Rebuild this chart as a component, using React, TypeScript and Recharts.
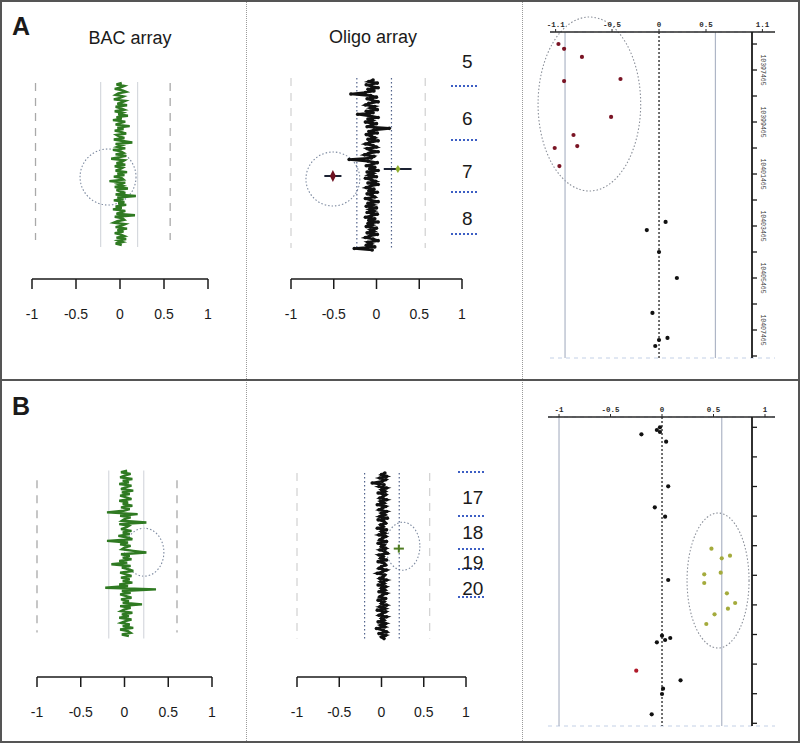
import React from 'react';
import {
  ScatterChart, Scatter, XAxis, YAxis, CartesianGrid,
  ReferenceLine, ReferenceArea, ErrorBar,
} from 'recharts';

const ratioTicks = [-1, -0.5, 0, 0.5, 1];

// log2 ratios, read top to bottom along each profile
const bacA = [0.02, -0.04, 0.05, 0.01, -0.06, 0.03, 0.07, -0.02, -0.05, 0.04, 0.0, -0.07, 0.06, 0.02, -0.03, 0.08, -0.05, 0.01, 0.05, -0.06,
  0.03, -0.02, 0.09, -0.04, 0.02, -0.08, 0.06, 0.0, -0.05, 0.11, -0.03, 0.04, -0.06, 0.02, 0.07, -0.04, -0.01, 0.05, -0.07, 0.03,
  0.14, -0.05, 0.02, -0.03, 0.06, -0.08, 0.01, 0.04, -0.05, 0.07, -0.02, -0.1, 0.05, 0.02, -0.04, 0.06, -0.06, 0.03, 0.0, -0.05,
  0.08, -0.03, 0.05, -0.07, 0.02, 0.04, -0.12, 0.06, -0.02, 0.03, -0.06, 0.09, -0.04, 0.01, 0.06, -0.05, 0.18, -0.03, 0.04, -0.07,
  0.05, -0.02, 0.07, -0.05, 0.02, -0.08, 0.06, 0.01, -0.04, 0.17, -0.06, 0.03, 0.05, -0.03, -0.07, 0.06, 0.02, -0.05, 0.08, -0.03,
  0.04, -0.06, 0.01, 0.05, -0.04, 0.07, -0.02, 0.03, -0.05, 0.02];
const oligoA = [-0.04, -0.09, 0.01, -0.12, -0.06, 0.02, -0.1, -0.03, -0.13, -0.3, -0.07, 0.0, -0.11, -0.05, 0.02, -0.09, -0.13, -0.02, -0.07, 0.01,
  -0.12, -0.04, -0.22, -0.08, 0.02, -0.1, -0.05, -0.13, 0.0, -0.06, -0.11, 0.15, -0.03, -0.09, 0.01, -0.12, -0.06, -0.02, -0.1, 0.02,
  -0.08, -0.13, -0.04, 0.0, -0.11, -0.07, 0.02, -0.09, -0.14, -0.03, -0.06, -0.32, -0.1, 0.01, -0.05, -0.12, -0.02, -0.08, 0.02, -0.11,
  -0.04, -0.09, 0.0, -0.13, -0.06, -0.01, -0.1, 0.02, -0.07, -0.12, -0.03, -0.09, 0.01, -0.11, -0.05, -0.02, -0.13, -0.07, 0.02, -0.1,
  -0.04, -0.12, 0.0, -0.08, -0.03, -0.11, 0.01, -0.06, -0.13, -0.02, -0.09, 0.02, -0.1, -0.05, -0.12, 0.0, -0.07, -0.03, -0.11, 0.01,
  -0.08, -0.13, -0.04, 0.02, -0.1, -0.06, -0.12, -0.02, -0.26, -0.05];
const bacB = [0.03, -0.04, 0.07, 0.0, -0.05, 0.09, -0.02, 0.05, -0.06, 0.08, 0.01, -0.04, 0.1, -0.03, 0.06, -0.05, 0.02, 0.08, -0.06, 0.04,
  -0.02, 0.09, -0.04, 0.06, -0.01, -0.2, 0.15, -0.05, 0.07, 0.0, -0.03, 0.25, -0.06, 0.05, 0.02, -0.04, 0.08, -0.02, 0.06, -0.07,
  0.03, 0.09, -0.2, 0.04, -0.05, 0.07, 0.0, -0.03, 0.1, 0.25, -0.04, 0.06, -0.02, 0.08, -0.06, 0.03, -0.15, 0.07, -0.03, 0.05,
  0.1, -0.05, 0.02, 0.08, -0.04, 0.06, -0.02, 0.09, -0.06, 0.04, -0.22, 0.36, -0.03, 0.07, -0.05, 0.02, 0.08, -0.04, 0.05, -0.02,
  0.2, -0.05, 0.07, 0.0, -0.04, 0.09, -0.03, 0.05, -0.06, 0.08, 0.01, -0.04, 0.06, -0.02, 0.1, -0.05, 0.04, 0.07, -0.03, 0.05];
const oligoB = [0.04, 0.0, 0.06, -0.02, 0.05, 0.01, -0.11, 0.03, -0.03, 0.06, 0.0, 0.04, -0.04, 0.05, 0.02, -0.02, 0.06, -0.01, 0.03, -0.05,
  0.05, 0.01, -0.03, 0.06, 0.0, 0.04, -0.02, 0.07, -0.04, 0.03, 0.05, -0.01, 0.02, -0.05, 0.06, 0.0, 0.04, -0.03, 0.05, 0.01,
  -0.02, 0.06, -0.04, 0.03, 0.0, 0.05, -0.02, 0.04, 0.07, -0.03, 0.02, -0.01, 0.06, -0.04, 0.03, 0.05, 0.0, -0.03, 0.06, 0.01,
  -0.05, 0.04, 0.02, -0.02, 0.06, -0.01, 0.03, -0.04, 0.05, 0.0, 0.04, -0.03, 0.06, 0.01, -0.02, 0.05, -0.04, 0.03, 0.0, 0.06,
  -0.02, 0.04, -0.05, 0.05, 0.01, -0.03, 0.06, 0.0, 0.03, -0.04, 0.05, -0.01, 0.04, -0.06, 0.02, 0.06, -0.03, 0.05, 0.0, 0.03];

// first and last probe of each profile (relative position)
const bacASpan = [44, 206];
const oligoASpan = [41, 211];
const bacBSpan = [28, 166];
const oligoBSpan = [30, 168];

// single oligo outliers with their spread
const oligoALoss = [{ v: -0.51, pos: 137, err: 0.1 }];
const oligoAGain = [{ v: 0.25, pos: 130, err: [0.165, 0.16] }];
const oligoBGain = [{ v: 0.205, pos: 93, err: 0.06 }];

// bands beside the oligo profiles
const bandNamesA = ['5', '6', '7', '8'];
const bandMidA = [22, 79, 132, 179];
const bandEdgeA = [47, 101, 153, 195];
const bandNamesB = ['17', '18', '19', '20'];
const bandMidB = [60, 95, 125, 151];
const bandEdgeB = [35, 79, 112, 132, 160];

// right hand plots: genomic position vs ratio
const dotTicksA = [10396465, 10397465, 10398465, 10399465, 10400465, 10401465, 10402465, 10403465, 10404465,
  10405465, 10406465, 10407465, 10408465];
const dotLabelsA = [10397465, 10399465, 10401465, 10403465, 10405465, 10407465];
const topTicksA = [-1.1, -0.5, 0, 0.5, 1.1];
const lossAPos = [10396465, 10396650, 10396960, 10397890, 10397810, 10399270, 10399965, 10400390, 10400465, 10401160];
const lossAVal = [-1.07, -1.01, -0.82, -1.01, -0.41, -0.51, -0.91, -0.87, -1.11, -1.06];
const normAPos = [10403310, 10403620, 10404465, 10405465, 10406810, 10407770, 10407850, 10408080];
const normAVal = [0.07, -0.13, 0, 0.19, -0.07, 0.09, 0, -0.04];

const dotTicksB = [17229657, 17239657, 17249657, 17259657, 17269657, 17279657, 17289657, 17299657, 17309657,
  17319657, 17329657, 17339657, 17349657, 17359657, 17369657, 17379657, 17389657, 17399657, 17409657, 17419657, 17429657];
const dotLabelsB = [17239657, 17259657, 17279657, 17299657, 17319657, 17339657, 17359657, 17379657, 17399657, 17419657];
const topTicksB = [-1, -0.5, 0, 0.5, 1];
const normBPos = [17229660, 17231480, 17232830, 17234390, 17239390, 17269520, 17283710, 17290060, 17332830, 17370470,
  17372020, 17373370, 17374930, 17400600, 17406280, 17409860, 17423580];
const normBVal = [-0.02, -0.05, -0.02, -0.2, 0.04, 0.06, -0.07, 0.03, 0.06, 0, 0.08, 0.03, -0.05, 0.18, 0.01, 0, -0.1];
const gainBPos = [17311680, 17316410, 17318170, 17327900, 17328980, 17334860, 17341820, 17348370, 17352230, 17356010, 17362560];
const gainBVal = [0.48, 0.66, 0.58, 0.57, 0.41, 0.41, 0.63, 0.71, 0.64, 0.51, 0.43];
const lossBPos = [17394120];
const lossBVal = [-0.25];

const toProfile = (vals: number[], span: number[]) =>
  vals.map((v, i) => ({ v, pos: span[0] + (i * (span[1] - span[0])) / (vals.length - 1) }));
const toPoints = (pos: number[], vals: number[]) => pos.map((p, i) => ({ pos: p, v: vals[i] }));

const SANS = '"Liberation Sans", Arial, sans-serif';
const MONO = '"Liberation Mono", "DejaVu Sans Mono", monospace';

const ring = (stroke: string) => (p: any) => (
  <ellipse cx={p.x + p.width / 2} cy={p.y + p.height / 2} rx={Math.abs(p.width) / 2} ry={Math.abs(p.height) / 2}
    fill="none" stroke={stroke} strokeDasharray="1.5 2" strokeWidth={1.1} />
);

const guideStyle: Record<string, any> = {
  dash: { stroke: '#a9a9a9', strokeDasharray: '8 7', strokeWidth: 1.3 },
  lite: { stroke: '#d4d4d4', strokeDasharray: '8 7', strokeWidth: 1.3 },
  grey: { stroke: '#d6d9de', strokeWidth: 1.2 },
  blue: { stroke: '#53648c', strokeDasharray: '1.5 2.5', strokeWidth: 1.2 },
};

type Guide = { x: number; from: number; to: number; kind: string };

function ArrayPlot(props: any) {
  const { left, top, margin, yMax, profile, bac, guides, circle, children } = props;
  return (
    <div style={{ position: 'absolute', left, top }}>
      <ScatterChart width={250} height={340} margin={margin}>
        <XAxis type="number" dataKey="v" domain={[-1, 1]} ticks={ratioTicks} allowDataOverflow height={40}
          tickSize={10} tickMargin={20} tickFormatter={(t: number) => String(t)}
          axisLine={{ stroke: '#1a1a1a', strokeWidth: 1.5 }} tickLine={{ stroke: '#1a1a1a', strokeWidth: 1.5 }}
          tick={{ fill: '#1a1a1a', fontSize: 14, fontFamily: SANS }} />
        <YAxis type="number" dataKey="pos" domain={[0, yMax]} reversed hide />
        {guides.map((g: Guide, i: number) => (
          <ReferenceLine key={i} segment={[{ x: g.x, y: g.from }, { x: g.x, y: g.to }]} {...guideStyle[g.kind]} />
        ))}
        <ReferenceArea x1={circle[0]} x2={circle[1]} y1={circle[2]} y2={circle[3]} ifOverflow="visible"
          shape={ring('#7d8aa0')} />
        {bac ? (
          <Scatter data={profile} line={{ stroke: '#2f7a22', strokeWidth: 2.4 }} shape={() => <g />}
            isAnimationActive={false} />
        ) : (
          <Scatter data={profile} line={{ stroke: '#101010', strokeWidth: 2.6 }}
            shape={(p: any) => <circle cx={p.cx} cy={p.cy} r={1.8} fill="#101010" />} isAnimationActive={false} />
        )}
        {children}
      </ScatterChart>
    </div>
  );
}

function BandColumn(props: any) {
  const { left, top, margin, yMax, names, mids, edges, labelX } = props;
  const data = names.map((n: string, i: number) => ({ v: labelX, pos: mids[i], name: n }));
  return (
    <div style={{ position: 'absolute', left, top }}>
      <ScatterChart width={60} height={340} margin={margin}>
        <XAxis type="number" dataKey="v" domain={[0, 1]} hide />
        <YAxis type="number" dataKey="pos" domain={[0, yMax]} reversed hide />
        {edges.map((e: number, i: number) => (
          <ReferenceLine key={i} y={e} stroke="#3d5fc4" strokeDasharray="2 2" strokeWidth={2} />
        ))}
        <Scatter data={data} isAnimationActive={false}
          shape={(p: any) => (
            <text x={p.cx} y={p.cy} textAnchor="middle" dominantBaseline="central" fontSize={19}
              fontFamily={SANS} fill="#1a1a1a">{p.payload.name}</text>
          )} />
      </ScatterChart>
    </div>
  );
}

function DotPlot(props: any) {
  const { top, height, plotTop, plotBottom, left, right, xDomain, xTicks, yDomain, yTicks, yLabels,
    guides, groups, ellipse } = props;
  const rotTick = (p: any) => {
    const { x, y, payload } = p;
    if (!yLabels.includes(payload.value)) return <g />;
    return (
      <text x={x} y={y} transform={`rotate(90 ${x} ${y})`} textAnchor="middle" dominantBaseline="central"
        fontSize={6.5} fontFamily={MONO} fill="#3a3a3a">{payload.value}</text>
    );
  };
  return (
    <div style={{ position: 'absolute', left: 522, top }}>
      <div style={{ position: 'absolute', left: 0, top: 0 }}>
        <ScatterChart width={278} height={height} margin={{ top: plotTop - 20, bottom: plotBottom, left, right }}>
          <CartesianGrid vertical={false} stroke="#c3d0e6" strokeDasharray="4 4" />
          <XAxis type="number" dataKey="v" orientation="top" domain={xDomain} ticks={xTicks} allowDataOverflow
            height={20} tickSize={3} tickMargin={2} tickFormatter={(t: number) => String(t)}
            axisLine={{ stroke: '#2a2a2a', strokeWidth: 1.3 }} tickLine={{ stroke: '#2a2a2a' }}
            tick={{ fill: '#2a2a2a', fontSize: 7.5, fontFamily: MONO, fontWeight: 'bold' }} />
          <YAxis type="number" dataKey="pos" orientation="right" domain={yDomain} ticks={yTicks} reversed
            allowDataOverflow width={0} tick={false} axisLine={false} tickLine={false} />
          {guides.map((g: any, i: number) => (
            <ReferenceLine key={i} x={g.x} stroke={g.stroke} strokeWidth={1.2} strokeDasharray={g.dash} />
          ))}
          <ReferenceArea x1={ellipse[0]} x2={ellipse[1]} y1={ellipse[2]} y2={ellipse[3]} ifOverflow="visible"
            shape={ring('#8a8f99')} />
          {groups.map((g: any, i: number) => (
            <Scatter key={i} data={g.data} isAnimationActive={false}
              shape={(p: any) => <circle cx={p.cx} cy={p.cy} r={2.1} fill={g.color} />} />
          ))}
        </ScatterChart>
      </div>
      <div style={{ position: 'absolute', left: 0, top: 0 }}>
        <ScatterChart width={278} height={height} margin={{ top: plotTop, bottom: plotBottom, left: 0, right: 0 }}>
          <XAxis type="number" dataKey="v" domain={xDomain} hide />
          <YAxis type="number" dataKey="pos" orientation="right" domain={yDomain} ticks={yTicks} reversed
            allowDataOverflow width={48} tickSize={5} tickMargin={5} tick={rotTick}
            axisLine={{ stroke: '#1a1a1a', strokeWidth: 1.8 }} tickLine={{ stroke: '#1a1a1a', strokeWidth: 1.3 }} />
        </ScatterChart>
      </div>
    </div>
  );
}

const label = (text: string, x: number, y: number, size: number, bold = false) => (
  <div style={{
    position: 'absolute', left: x, top: y, transform: bold ? undefined : 'translateX(-50%)',
    fontFamily: SANS, fontSize: size, lineHeight: `${size}px`, fontWeight: bold ? 'bold' : 'normal',
    color: '#1a1a1a', whiteSpace: 'nowrap',
  }}>{text}</div>
);

export default function App() {
  const marginA = { top: 39, bottom: 21 };
  const marginB = { top: 57, bottom: 3 };
  return (
    <div style={{ position: 'absolute', left: 0, top: 0, width: 800, height: 743, background: '#fff', overflow: 'hidden' }}>
      {/* panel A */}
      <ArrayPlot left={0} top={0} margin={{ ...marginA, left: 32, right: 42 }} yMax={240} bac
        profile={toProfile(bacA, bacASpan)} circle={[-0.454, 0.182, 110, 166]}
        guides={[
          { x: -0.96, from: 44, to: 201, kind: 'dash' }, { x: 0.57, from: 44, to: 201, kind: 'dash' },
          { x: -0.22, from: 43, to: 208, kind: 'grey' }, { x: 0.2, from: 43, to: 208, kind: 'grey' },
        ]} />
      <ArrayPlot left={250} top={0} margin={{ ...marginA, left: 41, right: 38 }} yMax={240}
        profile={toProfile(oligoA, oligoASpan)} circle={[-0.825, -0.195, 113, 167]}
        guides={[
          { x: -1, from: 39, to: 209, kind: 'lite' }, { x: 0.57, from: 39, to: 209, kind: 'lite' },
          { x: -0.23, from: 39, to: 211, kind: 'blue' }, { x: 0.175, from: 39, to: 211, kind: 'blue' },
        ]}>
        <Scatter data={oligoALoss} isAnimationActive={false}
          shape={(p: any) => <polygon points={`${p.cx},${p.cy - 6} ${p.cx + 3},${p.cy} ${p.cx},${p.cy + 6} ${p.cx - 3},${p.cy}`} fill="#6e1020" />}>
          <ErrorBar dataKey="err" direction="x" width={0} stroke="#1c2233" strokeWidth={2} />
        </Scatter>
        <Scatter data={oligoAGain} isAnimationActive={false}
          shape={(p: any) => <polygon points={`${p.cx},${p.cy - 4} ${p.cx + 2.5},${p.cy} ${p.cx},${p.cy + 4} ${p.cx - 2.5},${p.cy}`} fill="#8fae2e" />}>
          <ErrorBar dataKey="err" direction="x" width={0} stroke="#1c2233" strokeWidth={2} />
        </Scatter>
      </ArrayPlot>
      <BandColumn left={440} top={0} margin={{ top: 39, bottom: 61, left: 11, right: 21 }} yMax={240}
        names={bandNamesA} mids={bandMidA} edges={bandEdgeA} labelX={0.58} />
      <DotPlot top={0} height={380} plotTop={32} plotBottom={22} left={28} right={25}
        xDomain={[-1.16, 1.234]} xTicks={topTicksA} yDomain={[10396003, 10408542]} yTicks={dotTicksA}
        yLabels={dotLabelsA} ellipse={[-1.287, -0.195, 10395427, 10402119]}
        guides={[
          { x: -1, stroke: '#aeb6c6' }, { x: 0.6, stroke: '#aeb6c6' }, { x: 0, stroke: '#111', dash: '2 2' },
        ]}
        groups={[
          { data: toPoints(lossAPos, lossAVal), color: '#7a1424' },
          { data: toPoints(normAPos, normAVal), color: '#111' },
        ]} />

      {/* panel B */}
      <ArrayPlot left={0} top={380} margin={{ ...marginB, left: 37, right: 38 }} yMax={200} bac
        profile={toProfile(bacB, bacBSpan)} circle={[0.0, 0.45, 76, 116]}
        guides={[
          { x: -1, from: 36, to: 163, kind: 'dash' }, { x: 0.6, from: 36, to: 163, kind: 'dash' },
          { x: -0.18, from: 28, to: 168, kind: 'grey' }, { x: 0.22, from: 28, to: 168, kind: 'grey' },
        ]} />
      <ArrayPlot left={250} top={380} margin={{ ...marginB, left: 47, right: 34 }} yMax={200}
        profile={toProfile(oligoB, oligoBSpan)} circle={[0.05, 0.454, 71, 111]}
        guides={[
          { x: -1, from: 30, to: 168, kind: 'lite' }, { x: 0.57, from: 30, to: 168, kind: 'lite' },
          { x: -0.2, from: 30, to: 168, kind: 'blue' }, { x: 0.21, from: 30, to: 168, kind: 'blue' },
        ]}>
        <Scatter data={oligoBGain} isAnimationActive={false}
          shape={(p: any) => <line x1={p.cx} x2={p.cx} y1={p.cy - 4} y2={p.cy + 4} stroke="#4f7d22" strokeWidth={2} />}>
          <ErrorBar dataKey="err" direction="x" width={0} stroke="#4f7d22" strokeWidth={2} />
        </Scatter>
      </ArrayPlot>
      <BandColumn left={440} top={380} margin={{ top: 57, bottom: 83, left: 18, right: 15 }} yMax={200}
        names={bandNamesB} mids={bandMidB} edges={bandEdgeB} labelX={0.55} />
      <DotPlot top={380} height={362} plotTop={37} plotBottom={16} left={26} right={25}
        xDomain={[-1.107, 1.097]} xTicks={topTicksB} yDomain={[17222698, 17431478]} yTicks={dotTicksB}
        yLabels={dotLabelsB} ellipse={[0.243, 0.845, 17287560, 17378780]}
        guides={[
          { x: -1, stroke: '#aeb6c6' }, { x: 0.58, stroke: '#aeb6c6' }, { x: 0, stroke: '#111', dash: '2 2' },
        ]}
        groups={[
          { data: toPoints(normBPos, normBVal), color: '#111' },
          { data: toPoints(gainBPos, gainBVal), color: '#a4ab3c' },
          { data: toPoints(lossBPos, lossBVal), color: '#b01a2a' },
        ]} />

      {/* titles and frame */}
      {label('A', 12, 14, 25, true)}
      {label('B', 12, 394, 25, true)}
      {label('BAC array', 130, 29, 18)}
      {label('Oligo array', 373, 28, 18)}
      <div style={{ position: 'absolute', left: 246, top: 0, height: 743, borderLeft: '1px dotted #9a9a9a' }} />
      <div style={{ position: 'absolute', left: 522, top: 0, height: 743, borderLeft: '1px dotted #9a9a9a' }} />
      <div style={{ position: 'absolute', left: 0, top: 379, width: 800, height: 2, background: '#555' }} />
      <div style={{ position: 'absolute', left: 0, top: 0, width: 800, height: 743, boxSizing: 'border-box', border: '2px solid #555' }} />
    </div>
  );
}
